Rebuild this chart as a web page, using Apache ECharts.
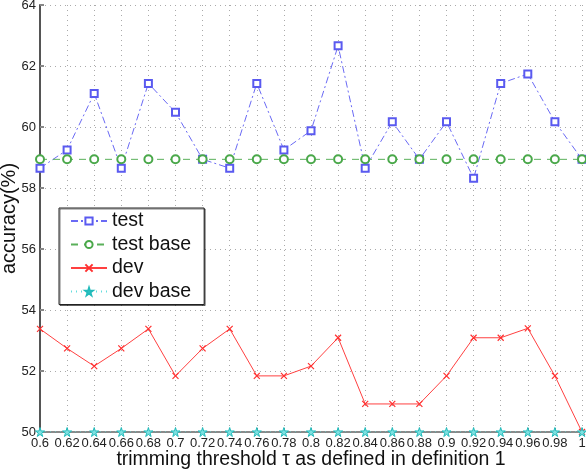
<!DOCTYPE html>
<html><head><meta charset="utf-8">
<script src="https://cdn.jsdelivr.net/npm/echarts@6/dist/echarts.min.js"></script>
<style>html,body{margin:0;padding:0;background:#fff}#c{width:586px;height:470px}</style>
</head><body><div id="c"></div>
<script>
var categories = ['0.6','0.62','0.64','0.66','0.68','0.7','0.72','0.74','0.76','0.78','0.8','0.82','0.84','0.86','0.88','0.9','0.92','0.94','0.96','0.98','1'];
var testValues = [58.65,59.25,61.1,58.65,61.43,60.48,58.94,58.65,61.43,59.25,59.88,62.66,58.65,60.17,58.94,60.17,58.32,61.43,61.74,60.17,58.94];
var testBaseValues = [58.94,58.94,58.94,58.94,58.94,58.94,58.94,58.94,58.94,58.94,58.94,58.94,58.94,58.94,58.94,58.94,58.94,58.94,58.94,58.94,58.94];
var devValues = [53.38,52.74,52.16,52.74,53.38,51.84,52.74,53.38,51.84,51.84,52.16,53.09,50.92,50.92,50.92,51.84,53.09,53.09,53.4,51.84,50.0];
var devBaseValues = [50,50,50,50,50,50,50,50,50,50,50,50,50,50,50,50,50,50,50,50,50];
var yTicks = [50,52,54,56,58,60,62,64];

var FONT = 'Liberation Sans';
var chart = echarts.init(document.getElementById('c'));
var xPath = 'path://M0,0L10,10M0,10L10,0';
var starPath = 'path://M50,0 L61,35 L98,35 L68,57 L79,91 L50,70 L21,91 L32,57 L2,35 L39,35 Z';
chart.setOption({
  animation: false,
  backgroundColor: '#fff',
  textStyle: {fontFamily: FONT},
  grid: {left: 40, right: 4, top: 5, bottom: 38, containLabel: false, outerBoundsMode: 'none'},
  xAxis: {
    type: 'category', data: categories, boundaryGap: false,
    name: 'trimming threshold \u03c4 as defined in definition 1',
    nameLocation: 'middle', nameGap: 18, nameMoveOverlap: false,
    nameTextStyle: {fontSize: 19.5, color: '#111', fontFamily: FONT},
    axisLine: {lineStyle: {color: '#666', width: 1.5}},
    axisTick: {inside: true, length: 4, lineStyle: {color: '#777'}},
    axisLabel: {interval: 0, fontSize: 13, color: '#222', margin: 5, fontFamily: FONT},
    splitLine: {show: true, lineStyle: {type: [1, 4], color: '#aaa', width: 1}}
  },
  yAxis: {
    type: 'value', min: yTicks[0], max: yTicks[yTicks.length - 1], interval: 2,
    name: 'accuracy(%)', nameLocation: 'middle', nameGap: 21, nameMoveOverlap: false,
    nameTextStyle: {fontSize: 20, color: '#111', fontFamily: FONT},
    axisLine: {show: true, lineStyle: {color: '#555', width: 2}},
    axisTick: {show: true, inside: true, length: 4, lineStyle: {color: '#888', width: 2}},
    axisLabel: {fontSize: 13, color: '#222', margin: 4, fontFamily: FONT},
    splitLine: {show: true, lineStyle: {type: [1, 4], color: '#aaa', width: 1}}
  },
  legend: {
    orient: 'vertical', left: 59, top: 208,
    padding: [3, 13, 3, 11],
    itemWidth: 36, itemHeight: 9, itemGap: 3.5,
    backgroundColor: '#fff', borderColor: '#222', borderWidth: 1,
    shadowColor: 'rgba(0,0,0,0.5)', shadowOffsetX: 1, shadowOffsetY: 1,
    textStyle: {fontSize: 19.5, color: '#111', fontFamily: FONT},
    data: ['test', 'test base', 'dev', 'dev base']
  },
  series: [
    {name: 'test', type: 'line', data: testValues, symbol: 'emptyRect', symbolSize: 7,
     itemStyle: {color: '#5a5af0', borderWidth: 1},
     lineStyle: {color: '#6a6af5', width: 1, type: [7, 3, 2, 3]}},
    {name: 'test base', type: 'line', data: testBaseValues, symbol: 'emptyCircle', symbolSize: 8,
     itemStyle: {color: '#4aa84a', borderWidth: 1},
     lineStyle: {color: '#5ab05a', width: 1, type: [7, 6]}},
    {name: 'dev', type: 'line', data: devValues, symbol: xPath, symbolSize: 6,
     itemStyle: {color: '#ff3030', borderColor: '#ff3030', borderWidth: 1.2},
     lineStyle: {color: '#ff4040', width: 1, type: 'solid'}},
    {name: 'dev base', type: 'line', data: devBaseValues, symbol: starPath, symbolSize: 9,
     itemStyle: {color: '#7ee0e0', borderColor: '#22bbbb', borderWidth: 1},
     lineStyle: {color: '#6dd', width: 1, type: [1, 4]}}
  ]
});
</script></body></html>
